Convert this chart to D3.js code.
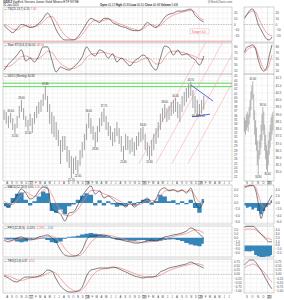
<!DOCTYPE html>
<html>
<head>
<meta charset="utf-8">
<script src="https://cdn.jsdelivr.net/npm/d3@7"></script>
<style>
body { margin: 0; background: #fff; }
text { font-family: 'Liberation Sans', Arial, sans-serif; }
</style>
</head>
<body>
<svg id="c" width="284" height="300"></svg>
<script>
// weekly chart, one bar every two weeks
const barStart = '2016-07-22';
const barDays = 14;
const weekHi = [37.3,36.8,35.9,36.6,35.4,34.1,35.9,38.2,39.6,37.7,35.9,35.0,36.4,35.4,36.8,38.2,39.1,39.6,40.9,42.8,40.5,38.6,36.8,35.9,34.5,32.7,30.4,31.3,31.3,29.0,28.1,26.7,26.3,26.7,25.8,28.1,29.9,31.8,34.1,36.6,35.4,33.6,32.2,33.6,35.4,36.8,37.7,35.9,34.5,33.6,32.2,33.1,34.5,33.1,31.3,29.0,31.8,31.3,30.4,30.9,29.9,31.3,32.2,33.1,33.4,31.8,29.9,29.0,30.4,31.8,33.1,34.5,36.4,37.7,38.6,37.7,38.2,39.1,39.6,40.0,39.1,38.6,40.5,41.4,42.3,43.2,43.7,41.8,40.5,39.6,38.6,39.6,40.5];
const weekLo = [35.0,34.1,33.1,34.3,32.7,31.8,33.1,35.4,36.8,35.0,33.4,32.5,33.6,32.0,34.1,35.4,36.4,36.8,38.2,39.6,36.8,34.1,31.8,31.1,30.4,29.0,24.9,27.7,28.1,25.4,24.0,21.7,22.6,23.5,22.6,24.5,26.3,28.1,30.4,33.1,31.8,30.4,28.8,29.9,32.2,33.6,34.5,32.7,31.3,30.4,29.0,29.9,31.3,29.5,27.7,25.8,28.1,28.1,27.2,27.7,26.7,28.1,29.0,29.9,30.4,28.1,26.7,25.8,26.7,28.1,29.5,30.9,32.7,34.5,35.4,34.5,35.0,35.9,36.4,36.8,35.4,34.5,36.8,38.2,39.1,40.0,40.5,37.7,36.4,35.7,35.9,36.4,37.3];
const hiLabelBars = [3, 8, 19, 39, 46, 64, 74, 79, 86];
const loLabelBars = [5, 11, 31, 34, 42, 55, 67, 88, 91];

// indicators, one value every second bar
const tsiLine = [-1.8,-8.8,-14,-7,0,-1.8,-5.3,-3.5,1.8,10.6,19.4,8.8,-8.8,-21,-26.5,-26.5,-26.5,-21,-10.6,1.8,10.6,7,3.5,10.6,10.6,3.5,0,-3.5,-5.3,-8.8,-10.6,-10.6,-5.3,3.5,-1.8,-5.3,1.8,12.4,17.7,19.4,23,23,24.7,26.5,15.9,8.8,4.2];
const tsiSignal = [0,-3,-8,-9,-5,-2,-3,-4,-1,5,12,14,5,-8,-18,-24,-26,-24,-17,-7,3,7,6,7,9,7,3,0,-3,-6,-8,-10,-8,-2,0,-3,-2,6,12,16,19,21,23,24,21,12,7.6];
const stoK = [13,33,47,63,80,43,53,40,60,90,90,47,7,23,17,13,23,37,57,90,70,60,80,73,53,67,40,53,40,27,43,53,63,53,27,13,53,93,87,63,80,63,67,57,47,30,60];
const stoD = [25,25,32,45,58,60,55,50,52,63,75,72,52,35,25,18,18,25,35,55,65,68,70,72,68,64,56,52,48,40,38,42,50,54,46,33,35,55,72,76,75,72,68,63,58,50,48];
const macdLine = [-0.3,-1.3,0.3,2.4,4.3,3.0,1.2,1.8,3.7,4.9,4.6,-1.9,-2.8,-3.4,-5.6,-3.1,-2.8,-0.6,2.1,4.0,5.2,2.7,3.7,1.5,2.1,1.2,0,-0.3,-1.3,0,-1.3,-0.3,0.6,1.5,0,1.2,4.0,4.6,3.7,4.0,3.4,4.0,3.0,4.6,0.3,-1.6,0.6];
const macdSignal = [0.5,-0.2,-0.5,0.8,2.5,3.4,2.6,2.0,2.6,3.8,4.5,2.5,-0.2,-2.0,-3.8,-4.0,-3.3,-2.0,0,2.0,3.8,3.8,3.5,2.8,2.3,1.8,1.0,0.3,-0.5,-0.5,-0.7,-0.6,-0.1,0.8,0.7,0.9,2.3,3.6,4.0,4.0,3.7,3.8,3.5,3.8,2.2,0.3,0.2];
const macdHist = [-1.0,-1.5,1.5,2.8,3.2,1.0,-0.8,0.5,2.0,3.5,3.0,-2.5,-3.0,-2.0,-3.5,-1.0,-0.5,1.0,2.2,3.0,2.5,-0.8,0.8,-0.8,0.5,-0.5,-1.2,-0.8,-1.0,0.5,-0.8,0.3,1.0,1.2,-0.6,0.6,2.5,2.0,0.5,0.8,-0.5,0.5,-0.4,1.0,-1.6,-3.0,1.2];
const ppoLine = [-0.6,-1.1,-0.6,-0.1,0.2,-0.4,-0.6,-0.4,0.2,0.4,0.7,-0.1,-1.1,-3.2,-4.5,-4.8,-4.8,-4.5,-3.2,-0.6,0.4,0.4,0.7,0.7,0.4,-0.1,-0.4,-0.6,-0.9,-1.1,-1.4,-1.4,-1.1,-0.9,-0.6,-0.9,-0.4,0.2,0.4,0.7,0.9,1.2,1.7,2.5,2.0,0.9,-0.1];
const ppoSignal = [-0.3,-0.6,-0.8,-0.5,-0.2,0,-0.3,-0.5,-0.3,0,0.3,0.4,-0.2,-1.3,-2.8,-4.0,-4.6,-4.7,-4.2,-2.8,-1.2,-0.2,0.3,0.5,0.6,0.4,0.1,-0.2,-0.5,-0.8,-1.0,-1.2,-1.3,-1.2,-1.0,-0.9,-0.8,-0.4,0,0.3,0.6,0.8,1.1,1.6,2.0,1.8,1.2];
const ppoHist = [-0.3,-0.5,-0.4,-1.0,-1.2,-1.0,-0.4,-0.2,-0.3,-0.2,-0.6,-1.2,-1.4,-1.0,-0.3,0.2,0.3,0.5,0.8,1.0,1.2,1.0,0.8,0.6,0.3,-0.2,-0.5,-0.6,-0.7,-0.8,-0.8,-0.7,-0.6,-0.8,-1.0,-0.9,-0.8,-0.6,-0.5,-0.4,-0.6,-0.9,-1.4,-1.8,-2.0,-2.2,-1.6];
const trixLine = [-0.1,-0.22,-0.39,-0.45,-0.28,-0.16,-0.16,-0.16,-0.1,0.02,0.25,0.19,-0.28,-0.69,-0.92,-1.04,-1.04,-0.98,-0.75,-0.1,0.25,0.31,0.37,0.37,0.37,0.43,0.37,0.25,0.14,0.02,-0.1,-0.16,-0.22,-0.16,-0.16,-0.1,0.14,0.25,0.37,0.43,0.49,0.55,0.61,0.72,0.61,0.49,0.37];
const trixSignal = [-0.05,-0.1,-0.2,-0.32,-0.36,-0.3,-0.22,-0.18,-0.15,-0.08,0.05,0.15,0.05,-0.25,-0.55,-0.8,-0.95,-1.0,-0.9,-0.6,-0.2,0.1,0.25,0.32,0.36,0.38,0.4,0.35,0.26,0.15,0.05,-0.05,-0.12,-0.16,-0.16,-0.14,-0.05,0.1,0.22,0.32,0.4,0.47,0.53,0.6,0.63,0.6,0.52];

// small daily chart on the right
const rStart = '2019-08-28';
const rDays = 5;
const rHi = [38.8,38.6,39.0,39.2,39.0,39.5,40.0,40.6,41.0,41.3,40.4,39.3,38.6,38.1,37.2,36.5,37.2,37.6,38.3,39.0,39.5,39.2,38.3,37.6,36.9,36.5,37.2,37.8,38.3,38.8,39.0,39.2];
const rLo = [37.8,37.6,37.9,38.1,37.8,38.3,38.8,39.3,40.0,40.1,38.6,37.6,36.9,36.5,35.5,34.8,35.9,36.2,36.7,37.2,37.9,37.6,36.5,35.9,35.2,35.0,35.5,36.2,36.7,37.2,37.6,37.9];
const rHiLabelBars = [9, 20];
const rLoLabelBars = [15, 25];
const rTsi = [10.6,17.7,24.7,26.5,15.9,0,-8.8,-17.7,-24.7,-26.5,-21.2];
const rTsiSig = [12.4,17.7,21.2,23,21.2,12.4,1.8,-7,-14,-17.7,-19.4];
const rStoK = [73,90,93,97,83,47,20,10,20,60,97];
const rStoD = [67,80,87,90,87,63,37,17,13,33,63];
const rMacd = [4.9,5.2,5.4,5.4,4.0,0,-4.8,-2.2,-0.6,0.9,2.4];
const rMacdSig = [4.6,4.9,5.2,5.3,4.9,2.4,0,-1.3,-1.3,-0.3,0.9];
const rMacdHist = [-0.8,-1.5,-1.2,-2.0,-1.5,-2.5,-3.5,-2.5,-1.2,-0.5,0.8];
const rPpo = [4.7,4.9,4.9,4.9,4.5,3.7,2.9,2.2,1.4,0.9,0.9];
const rPpoSig = [4.0,4.2,4.2,4.2,4.0,3.5,2.9,2.4,1.9,1.7,1.4];
const rPpoHist = [-1.5,-1.5,-1.6,-1.4,-2.5,-2.8,-3.0,-3.0,-2.9,-2.8,-2.5];
const rTrix = [0.55,0.72,0.84,0.84,0.72,0.49,0.25,-0.04,-0.34,-0.63,-0.86];
const rTrixSig = [0.37,0.49,0.55,0.61,0.55,0.43,0.31,0.14,-0.04,-0.28,-0.45];

// annotations
const greenLevels = [43.4, 42.6];
const channelStart = ['2018-12-09','2019-03-29','2019-07-10','2019-10-21'];
const channelEnd = ['2020-02-10','2020-05-29','2020-09-11','2020-12-20'];
const channelPrice = [25, 52.6];
const wedgeTop = [['2019-11-08', 43.0], ['2020-03-31', 39.3]];
const wedgeBottom = [['2019-11-16', 35.7], ['2020-03-11', 36.3]];
const targetLevel = -28.5;
const targetText = 'Target 50';
const targetAt = ['2019-11-03', -13];

// header and tick labels
const title = ['GDXJ', ' VanEck Vectors Junior Gold Miners ETF  NYSE'];
const dateText = '31-Jan-2020';
const quoteNames = ['Open', 'High', 'Low', 'Close', 'Volume'];
const quoteValues = ['41.22', '41.86', '40.10', '40.68', '5.6M'];
const monthLetters = ['J','F','M','A','M','J','J','A','S','O','N','D'];
const tsiTicks = [-20, -10, 0, 10, 20];
const stoTicks = [10, 30, 50, 70, 90];
const priceTicks = [22,23,24,25,26,27,28,29,30,31,32,33,34,35,36,37,38,39,40,41,42,43,44,45];
const rPriceTicks = [35,35.5,36,36.5,37,37.5,38,38.5,39,39.5,40,40.5,41,41.5];
const macdTicks = [-6, -4, -2, 0, 2, 4];
const ppoTicks = [-4, -3, -2, -1, 0, 1, 2];
const rPpoTicks = [-2, -1, 0, 1, 2, 3, 4];
const trixTicks = [-1, -0.75, -0.5, -0.25, 0, 0.25, 0.5, 0.75];

const parse = d3.timeParse('%Y-%m-%d');
const svg = d3.select('#c');
const L = [3, 232], R = [244, 274];
const x = d3.scaleTime().domain([new Date(2016, 6, 15), new Date(2020, 6, 31)]).range(L);
const xr = d3.scaleTime().domain([new Date(2019, 7, 25), new Date(2020, 1, 5)]).range(R);

const barDates = weekHi.map((d, i) => d3.timeDay.offset(parse(barStart), i * barDays));
const oscDates = barDates.filter((d, i) => i % 2 === 0);
const rDates = rHi.map((d, i) => d3.timeDay.offset(parse(rStart), i * rDays));
const rOscDates = rDates.filter((d, i) => i % 3 === 0);

const panels = {
  tsi:   {top: 7,   bot: 42,  dom: [-30, 30],    rdom: [-30, 30],    ticks: tsiTicks,   rticks: tsiTicks,   f: d3.format('d')},
  sto:   {top: 43,  bot: 74,  dom: [0, 103],     rdom: [0, 103],     ticks: stoTicks,   rticks: stoTicks,   f: d3.format('d')},
  price: {top: 74,  bot: 181, dom: [21, 45.5],   rdom: [34.4, 41.8], ticks: priceTicks, rticks: rPriceTicks, f: d3.format('d'), rf: d3.format('.1f')},
  macd:  {top: 185, bot: 224, dom: [-6.5, 5.5],  rdom: [-6.5, 5.5],  ticks: macdTicks,  rticks: macdTicks,  f: d3.format('.1f')},
  ppo:   {top: 226, bot: 257, dom: [-5, 3],      rdom: [-3, 5],      ticks: ppoTicks,   rticks: rPpoTicks,  f: d3.format('.1f')},
  trix:  {top: 259, bot: 293, dom: [-1.1, 0.9],  rdom: [-1.1, 0.9],  ticks: trixTicks,  rticks: trixTicks,  f: d3.format('.2f')}
};

const leftMonths = d3.timeMonths(new Date(2016, 7, 1), new Date(2020, 6, 31));
const rightMonths = d3.timeMonths(new Date(2019, 8, 1), new Date(2020, 1, 1));

Object.values(panels).forEach(p => {
  p.y = d3.scaleLinear().domain(p.dom).range([p.bot, p.top]);
  p.yr = d3.scaleLinear().domain(p.rdom).range([p.bot, p.top]);
  [[x, L, leftMonths, p.y, p.ticks, p.f, 234], [xr, R, rightMonths, p.yr, p.rticks, p.rf || p.f, 275.5]].forEach(([xs, ext, months, ys, ticks, f, lx]) => {
    const g = svg.append('g');
    g.selectAll(null).data(months).join('line')
      .attr('x1', d => xs(d)).attr('x2', d => xs(d))
      .attr('y1', p.top).attr('y2', p.bot)
      .attr('stroke', d => d.getMonth() === 0 ? '#cfcfcf' : '#ececec').attr('stroke-width', 0.5);
    g.selectAll(null).data(ticks).join('line')
      .attr('x1', ext[0]).attr('x2', ext[1])
      .attr('y1', d => ys(d)).attr('y2', d => ys(d))
      .attr('stroke', '#ececec').attr('stroke-width', 0.5);
    g.append('rect').attr('x', ext[0]).attr('y', p.top)
      .attr('width', ext[1] - ext[0]).attr('height', p.bot - p.top)
      .attr('fill', 'none').attr('stroke', '#a8a8a8').attr('stroke-width', 0.5);
    g.selectAll(null).data(ticks).join('text')
      .attr('x', lx).attr('y', d => ys(d) + 1.1)
      .attr('font-size', 3).attr('fill', '#444').text(d => f(d));
  });
});

// dashed middle lines
[[panels.tsi, 0], [panels.sto, 50], [panels.trix, 0]].forEach(([p, v]) => {
  [[L, p.y], [R, p.yr]].forEach(([ext, ys]) => {
    svg.append('line').attr('x1', ext[0]).attr('x2', ext[1])
      .attr('y1', ys(v)).attr('y2', ys(v))
      .attr('stroke', '#999').attr('stroke-width', 0.5).attr('stroke-dasharray', '1.5,1');
  });
});

function drawLine(xs, ys, dates, vals, color, w) {
  svg.append('path').datum(vals)
    .attr('fill', 'none').attr('stroke', color).attr('stroke-width', w)
    .attr('d', d3.line().x((d, i) => xs(dates[i])).y(d => ys(d)).curve(d3.curveMonotoneX));
}
function drawHist(xs, ys, dates, vals) {
  svg.append('path').datum(vals)
    .attr('fill', '#3585b9')
    .attr('d', d3.area().x((d, i) => xs(dates[i])).y0(ys(0)).y1(d => ys(d)).curve(d3.curveStep));
}

const red = '#f08080', black = '#2a2a2a', blue = '#3585b9';

// histograms first, lines above
drawHist(x, panels.macd.y, oscDates, macdHist);
drawHist(x, panels.ppo.y, oscDates, ppoHist);
drawHist(xr, panels.macd.yr, rOscDates, rMacdHist);
drawHist(xr, panels.ppo.yr, rOscDates, rPpoHist);

[[panels.tsi, tsiLine, tsiSignal, rTsi, rTsiSig],
 [panels.sto, stoK, stoD, rStoK, rStoD],
 [panels.macd, macdLine, macdSignal, rMacd, rMacdSig],
 [panels.ppo, ppoLine, ppoSignal, rPpo, rPpoSig],
 [panels.trix, trixLine, trixSignal, rTrix, rTrixSig]].forEach(([p, a, b, ra, rb]) => {
  drawLine(x, p.y, oscDates, b, red, 0.7);
  drawLine(x, p.y, oscDates, a, black, 0.6);
  drawLine(xr, p.yr, rOscDates, rb, red, 0.7);
  drawLine(xr, p.yr, rOscDates, ra, black, 0.6);
});

// target annotation in top panel
const pt = panels.tsi;
svg.append('line').attr('x1', L[0]).attr('x2', L[1])
  .attr('y1', pt.y(targetLevel)).attr('y2', pt.y(targetLevel))
  .attr('stroke', '#f4a0a0').attr('stroke-width', 0.9);
const tg = svg.append('g').attr('transform', `translate(${x(parse(targetAt[0]))},${pt.y(targetAt[1])})`);
tg.append('rect').attr('x', 0).attr('y', -3.2).attr('width', 19).attr('height', 5)
  .attr('fill', '#fff').attr('stroke', '#f4a0a0').attr('stroke-width', 0.4);
tg.append('text').attr('x', 1.5).attr('y', 0.6).attr('font-size', 3.4).attr('fill', '#e36b6b').text(targetText);

// price panel
const pp = panels.price;
svg.append('defs').append('clipPath').attr('id', 'clipCh')
  .append('rect').attr('x', L[0]).attr('y', panels.sto.top).attr('width', L[1] - L[0]).attr('height', pp.bot - panels.sto.top);
svg.append('g').selectAll(null).data(greenLevels).join('line')
  .attr('x1', L[0]).attr('x2', L[1]).attr('y1', d => pp.y(d)).attr('y2', d => pp.y(d))
  .attr('stroke', '#46d046').attr('stroke-width', 0.9);
svg.append('g').attr('clip-path', 'url(#clipCh)').selectAll(null).data(channelStart).join('line')
  .attr('x1', d => x(parse(d))).attr('y1', pp.y(channelPrice[0]))
  .attr('x2', (d, i) => x(parse(channelEnd[i]))).attr('y2', pp.y(channelPrice[1]))
  .attr('stroke', '#f4a0a0').attr('stroke-width', 0.5);
[wedgeTop, wedgeBottom].forEach(w => {
  svg.append('line')
    .attr('x1', x(parse(w[0][0]))).attr('y1', pp.y(w[0][1]))
    .attr('x2', x(parse(w[1][0]))).attr('y2', pp.y(w[1][1]))
    .attr('stroke', '#3344dd').attr('stroke-width', 0.8);
});

svg.append('g').selectAll(null).data(weekHi).join('line')
  .attr('x1', (d, i) => x(barDates[i])).attr('x2', (d, i) => x(barDates[i]))
  .attr('y1', d => pp.y(d)).attr('y2', (d, i) => pp.y(weekLo[i]))
  .attr('stroke', '#8a8a8a').attr('stroke-width', 0.8);
svg.append('g').selectAll(null).data(rHi).join('line')
  .attr('x1', (d, i) => xr(rDates[i])).attr('x2', (d, i) => xr(rDates[i]))
  .attr('y1', d => pp.yr(d)).attr('y2', (d, i) => pp.yr(rLo[i]))
  .attr('stroke', '#8a8a8a').attr('stroke-width', 0.6);

const f2 = d3.format('.2f');
function priceLabels(xs, ys, dates, hi, lo, hiIdx, loIdx) {
  const g = svg.append('g').attr('font-size', 2.6).attr('fill', '#333').attr('text-anchor', 'middle');
  g.selectAll(null).data(hiIdx).join('text')
    .attr('x', i => xs(dates[i])).attr('y', i => ys(hi[i]) - 1).text(i => f2(hi[i]));
  g.selectAll(null).data(loIdx).join('text')
    .attr('x', i => xs(dates[i])).attr('y', i => ys(lo[i]) + 3).text(i => f2(lo[i]));
}
priceLabels(x, pp.y, barDates, weekHi, weekLo, hiLabelBars, loLabelBars);
priceLabels(xr, pp.yr, rDates, rHi, rLo, rHiLabelBars, rLoLabelBars);

// date rows
function dateRow(y, xs, months) {
  const g = svg.append('g').attr('font-size', 2.8).attr('fill', '#444').attr('text-anchor', 'middle');
  months.forEach(m => {
    const cx = xs(m) + 1.6;
    if (m.getMonth() === 0) {
      g.append('rect').attr('x', cx - 2).attr('y', y - 2.6).attr('width', 4).attr('height', 3.4)
        .attr('fill', '#fff').attr('stroke', '#555').attr('stroke-width', 0.3);
      g.append('text').attr('x', cx).attr('y', y).attr('font-weight', 'bold').text(String(m.getFullYear()).slice(2));
    } else {
      g.append('text').attr('x', cx).attr('y', y).text(monthLetters[m.getMonth()]);
    }
  });
}
dateRow(184, x, leftMonths);
dateRow(298, x, leftMonths);
dateRow(184, xr, rightMonths);
dateRow(298, xr, rightMonths);

// header
const hd = svg.append('g').attr('font-size', 3.2).attr('fill', '#222');
const t1 = hd.append('text').attr('x', 3).attr('y', 3);
t1.append('tspan').attr('font-weight', 'bold').text(title[0]);
t1.append('tspan').text(title[1]);
hd.append('text').attr('x', 3).attr('y', 6.3).attr('font-size', 2.8).text(dateText);
const q = hd.append('text').attr('x', 100).attr('y', 6.3).attr('font-size', 2.8);
quoteNames.forEach((n, i) => {
  q.append('tspan').attr('font-weight', 'bold').text((i ? '  ' : '') + n + ' ');
  q.append('tspan').text(quoteValues[i]);
});
hd.append('text').attr('x', 232).attr('y', 3).attr('font-size', 2.8).attr('text-anchor', 'end').attr('fill', '#555').text('@StockCharts.com');

// panel legends
function legend(p, name, vals, colors) {
  const t = svg.append('text').attr('x', 4).attr('y', p.top + 3.4).attr('font-size', 2.8).attr('fill', '#222');
  t.append('tspan').text('\u2014 ' + name + ' ');
  vals.forEach((v, i) => t.append('tspan').attr('fill', colors[i]).text((i ? ', ' : '') + v));
}
const last = a => a[a.length - 1];
legend(panels.tsi, 'TSI(25,13,7)', [f2(last(tsiLine)), f2(last(tsiSignal))], [black, '#e35d5d']);
legend(panels.sto, 'Slow STO(14,3)', [f2(last(stoK)), f2(last(stoD))], [black, '#e35d5d']);
legend(pp, 'GDXJ (Weekly)', [quoteValues[3]], [black]);
legend(panels.macd, 'MACD(12,26,9)', [f2(last(macdLine)), f2(last(macdSignal)), f2(last(macdHist))], [black, '#e35d5d', blue]);
legend(panels.ppo, 'PPO(12,26,9)', [f2(last(ppoLine)) + '%', f2(last(ppoSignal)) + '%', f2(last(ppoHist))], [black, '#e35d5d', blue]);
legend(panels.trix, 'TRIX(15,9)', [f2(last(trixLine)), f2(last(trixSignal))], [black, '#e35d5d']);
</script>
</body>
</html>
